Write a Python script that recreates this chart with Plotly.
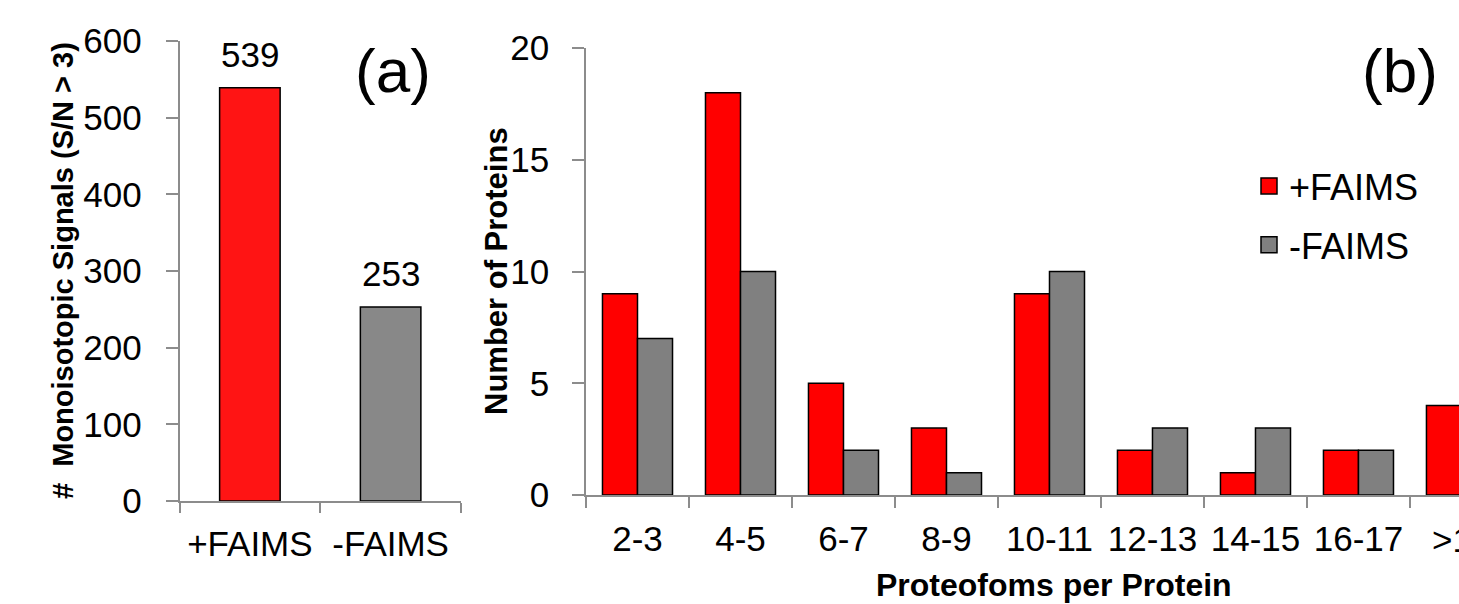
import plotly.graph_objects as go

# ---- data ----
a_categories = ["+FAIMS", "-FAIMS"]
a_values = [539, 253]

b_categories = ["2-3", "4-5", "6-7", "8-9", "10-11", "12-13", "14-15", "16-17", ">17"]
b_plus = [9, 18, 5, 3, 9, 2, 1, 2, 4]
b_minus = [7, 10, 2, 1, 10, 3, 3, 2, 3]
series_names = ["+FAIMS", "-FAIMS"]

a_yticks = [0, 100, 200, 300, 400, 500, 600]
b_yticks = [0, 5, 10, 15, 20]

W, H = 1459, 604
FONT = "Liberation Sans, Arial, sans-serif"
RED_A, GREY_A = "#ff1414", "#888888"
RED_B, GREY_B = "#ff0000", "#808080"
AXIS = "#8c8c8c"

fig = go.Figure()

fig.add_trace(go.Bar(
    x=a_categories, y=a_values, width=0.43,
    marker=dict(color=[RED_A, GREY_A], line=dict(color="black", width=1.5)),
    xaxis="x", yaxis="y", showlegend=False,
))

for name, vals, col in zip(series_names, [b_plus, b_minus], [RED_B, GREY_B]):
    fig.add_trace(go.Bar(
        x=b_categories, y=vals, name=name, showlegend=False,
        marker=dict(color=col, line=dict(color="black", width=1.5)),
        xaxis="x2", yaxis="y2",
    ))

# legend entries (larger square swatches, like the reference legend)
for name, col in zip(series_names, [RED_B, GREY_B]):
    fig.add_trace(go.Scatter(
        x=[None], y=[None], mode="markers", name=name, legendgroup=name,
        marker=dict(symbol="square", size=16, color=col, line=dict(color="black", width=1.5)),
        xaxis="x2", yaxis="y2",
    ))

tickfont = dict(family=FONT, size=35, color="black")

x2_domain = [586 / W, 1.0]
x2_range = [-0.5, 7.976]
y2_domain = [(H - 495) / H, (H - 48) / H]

common_axis = dict(showline=True, linecolor=AXIS, linewidth=1.5, ticks="outside",
                   tickcolor=AXIS, tickwidth=1.5, tickfont=tickfont, showgrid=False,
                   zeroline=False, automargin=False)

fig.update_layout(
    template="none",
    width=W, height=H,
    margin=dict(l=0, r=0, t=0, b=0, pad=0, autoexpand=False),
    paper_bgcolor="white", plot_bgcolor="white",
    barmode="group", bargap=0.32, bargroupgap=0,
    font=dict(family=FONT, color="black"),
    xaxis=dict(
        domain=[179.5 / W, 461 / W], anchor="y",
        type="category", range=[-0.5, 1.5],
        tickson="boundaries", ticklen=10, ticklabelstandoff=11, **common_axis,
    ),
    yaxis=dict(
        domain=[(H - 501) / H, (H - 41) / H], anchor="x",
        range=[0, 600], tickvals=a_yticks,
        ticklen=12, ticklabelstandoff=17, **common_axis,
    ),
    xaxis2=dict(
        domain=x2_domain, anchor="y2",
        type="category", range=x2_range,
        tickson="boundaries", ticklen=11, ticklabelstandoff=12, **common_axis,
    ),
    yaxis2=dict(
        domain=y2_domain, anchor="x2",
        range=[0, 20], tickvals=b_yticks,
        ticklen=12, ticklabelstandoff=16, **common_axis,
    ),
    legend=dict(
        x=1249 / W, y=1 - 156 / H, xanchor="left", yanchor="top",
        font=dict(family=FONT, size=36, color="black"),
        bgcolor="rgba(0,0,0,0)", traceorder="grouped", tracegroupgap=9,
        itemsizing="trace",
    ),
)

annotations = []
# value labels in panel (a)
for cat, val in zip(a_categories, a_values):
    annotations.append(dict(
        x=cat, y=val, xref="x", yref="y", text=str(val), showarrow=False,
        yanchor="bottom", yshift=12, font=dict(family=FONT, size=35, color="black"),
    ))
# panel letters
annotations.append(dict(x=393 / W, y=1 - 70 / H, xref="paper", yref="paper",
                        text="(a)", showarrow=False, xanchor="center", yanchor="middle",
                        font=dict(family=FONT, size=62, color="black")))
annotations.append(dict(x=1400 / W, y=1 - 70 / H, xref="paper", yref="paper",
                        text="(b)", showarrow=False, xanchor="center", yanchor="middle",
                        font=dict(family=FONT, size=62, color="black")))
# axis titles
annotations.append(dict(x=63 / W, y=1 - 271 / H, xref="paper", yref="paper",
                        text="<b>#  Monoisotopic Signals (S/N > 3)</b>", textangle=-90,
                        showarrow=False, xanchor="center", yanchor="middle",
                        font=dict(family=FONT, size=29, color="black")))
annotations.append(dict(x=496 / W, y=1 - 271 / H, xref="paper", yref="paper",
                        text="<b>Number of Proteins</b>", textangle=-90,
                        showarrow=False, xanchor="center", yanchor="middle",
                        font=dict(family=FONT, size=31, color="black")))
annotations.append(dict(x=1054 / W, y=1 - 585 / H, xref="paper", yref="paper",
                        text="<b>Proteofoms per Protein</b>",
                        showarrow=False, xanchor="center", yanchor="middle",
                        font=dict(family=FONT, size=32, color="black")))
# last (partly cut off) category label of panel (b): position derived from the x2 axis mapping
last_idx = len(b_categories) - 1
last_frac = (last_idx - x2_range[0]) / (x2_range[1] - x2_range[0])
last_x_paper = x2_domain[0] + last_frac * (x2_domain[1] - x2_domain[0])
annotations.append(dict(x=last_x_paper, y=y2_domain[0], xref="paper", yref="paper",
                        text=b_categories[-1], showarrow=False,
                        xanchor="center", yanchor="middle", yshift=-44.5,
                        font=dict(family=FONT, size=35, color="black")))
fig.update_layout(annotations=annotations)

fig.write_html("out.html")
